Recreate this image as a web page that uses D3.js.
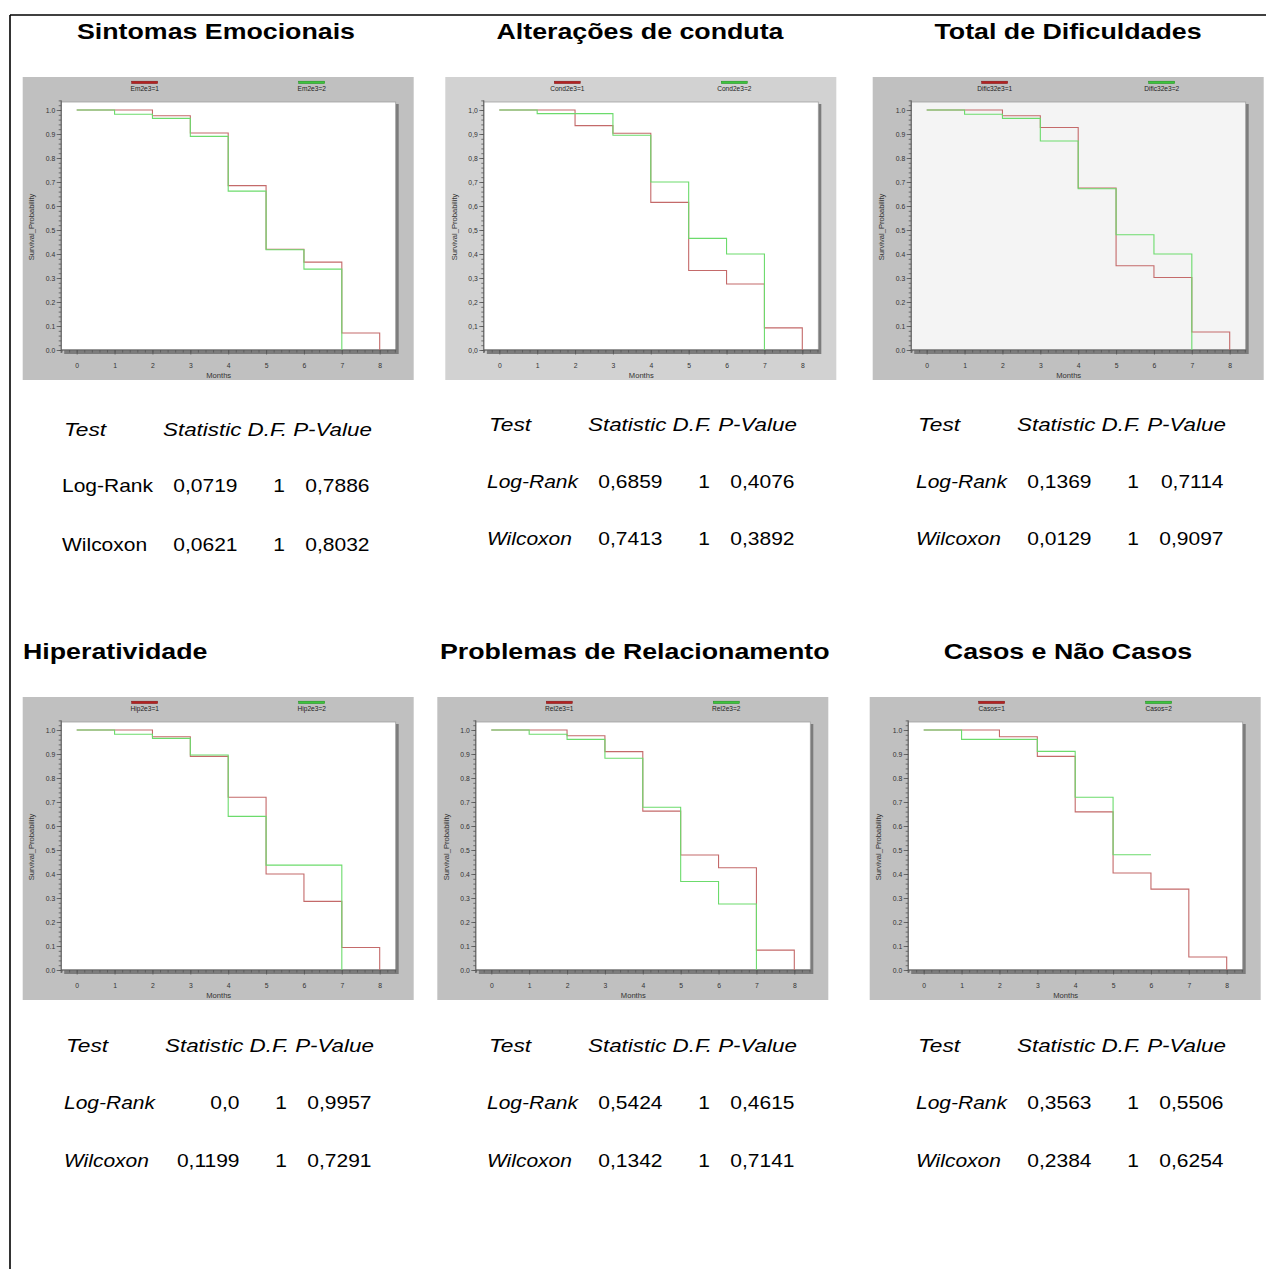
<!DOCTYPE html>
<html><head><meta charset="utf-8">
<script src="https://cdn.jsdelivr.net/npm/d3@7"></script>
<style>
html,body{margin:0;padding:0;background:#fff;}
svg{display:block;}
text{font-family:"Liberation Sans",Arial,sans-serif;}
</style></head>
<body>
<script>
// ---------- DATA ----------
const months = [0,1,2,3,4,5,6,7,8];

const titles = ["Sintomas Emocionais","Alterações de conduta","Total de Dificuldades",
                "Hiperatividade","Problemas de Relacionamento","Casos e Não Casos"];
const groupVars = ["Em2e3","Cond2e3","Dific32e3","Hip2e3","Rel2e3","Casos"];
const groupLevels = ["1","2"];

// Kaplan-Meier survival estimates (value held from month i to month i+1)
const emRed     = [1,1,0.976,0.904,0.685,0.420,0.366,0.071,0];
const emGreen   = [1,0.982,0.965,0.890,0.662,0.418,0.337,0];
const condRed   = [1,1,0.935,0.903,0.615,0.331,0.275,0.092,0];
const condGreen = [1,0.985,0.985,0.895,0.700,0.465,0.400,0];
const difRed    = [1,1,0.976,0.927,0.675,0.351,0.302,0.075,0];
const difGreen  = [1,0.982,0.965,0.871,0.672,0.480,0.400,0];
const hipRed    = [1,1,0.972,0.890,0.720,0.400,0.286,0.094,0];
const hipGreen  = [1,0.982,0.965,0.896,0.640,0.437,0.437,0];
const relRed    = [1,1,0.976,0.910,0.662,0.479,0.426,0.083,0];
const relGreen  = [1,0.982,0.961,0.882,0.678,0.369,0.275,0];
const casRed    = [1,1,0.972,0.890,0.659,0.404,0.337,0.054,0];
const casGreen  = [1,0.961,0.961,0.911,0.720,0.480,0.480];

const xTicks = [0,1,2,3,4,5,6,7,8];
const yTicks = [0,0.1,0.2,0.3,0.4,0.5,0.6,0.7,0.8,0.9,1.0];
const yDecimalSep = [".", ",", ".", ".", ".", "."];

// test tables
const testNames = ["Log-Rank","Wilcoxon"];
const tableHeader = ["Test","Statistic D.F. P-Value"];
const statEm  = ["0,0719","0,0621"], pEm  = ["0,7886","0,8032"];
const statCond= ["0,6859","0,7413"], pCond= ["0,4076","0,3892"];
const statDif = ["0,1369","0,0129"], pDif = ["0,7114","0,9097"];
const statHip = ["0,0","0,1199"],    pHip = ["0,9957","0,7291"];
const statRel = ["0,5424","0,1342"], pRel = ["0,4615","0,7141"];
const statCas = ["0,3563","0,2384"], pCas = ["0,5506","0,6254"];
const dfs = ["1","1"];

// ---------- LAYOUT ----------
const W = 1266, H = 1269;
const SX = 1.2; // horizontal stretch of page text
const redSeries   = [emRed, condRed, difRed, hipRed, relRed, casRed];
const greenSeries = [emGreen, condGreen, difGreen, hipGreen, relGreen, casGreen];
const stats = [statEm, statCond, statDif, statHip, statRel, statCas];
const pvals = [pEm, pCond, pDif, pHip, pRel, pCas];

const panelPos = [[22.7,77],[445.3,77],[872.7,77],[22.7,697],[437.3,697],[869.7,697]];
const panelBg = ["#c0c0c0","#d2d2d2","#c0c0c0","#c0c0c0","#c0c0c0","#c0c0c0"];
const plotBg  = ["#ffffff","#ffffff","#f4f4f4","#ffffff","#ffffff","#ffffff"];
const titlePos = [[216,38.5,"middle"],[640,38.5,"middle"],[1068,38.5,"middle"],
                  [23,659,"start"],[440,659,"start"],[1068,659,"middle"]];
const tablePos = [[62,436,492,551],[487,431,488,545],[916,431,488,545],
                  [64,1052,1109,1167],[487,1052,1109,1167],[916,1052,1109,1167]];
const italicLabels = [false,true,true,true,true,true];

const svg = d3.select("body").append("svg").attr("width",W).attr("height",H);
svg.append("rect").attr("width",W).attr("height",H).attr("fill","#fff");

// frame
svg.append("line").attr("x1",10).attr("y1",15).attr("x2",W).attr("y2",15).attr("stroke","#000").attr("stroke-width",1.6);
svg.append("line").attr("x1",10).attr("y1",15).attr("x2",10).attr("y2",H).attr("stroke","#000").attr("stroke-width",1.6);

function txt(g, x, y, s, o){
  o = o || {};
  return g.append("text")
    .attr("transform",`translate(${x},${y}) scale(${o.sx||1},1)`)
    .attr("text-anchor",o.anchor||"start")
    .attr("font-size",o.size||12)
    .attr("font-weight",o.weight||"normal")
    .attr("font-style",o.style||"normal")
    .attr("fill",o.fill||"#000")
    .text(s);
}

const REDLINE = "#c46a6a", GREENLINE = "#6cdb6c";

for (let i=0;i<6;i++){
  // title
  const tp = titlePos[i];
  txt(svg, tp[0], tp[1], titles[i], {size:22.3, weight:"bold", anchor:tp[2], sx:SX});

  // panel
  const [px,py] = panelPos[i];
  const g = svg.append("g").attr("transform",`translate(${px},${py})`);
  g.append("rect").attr("width",391).attr("height",303).attr("fill",panelBg[i]);

  const x = d3.scaleLinear().domain([0,8]).range([54,357]);
  const y = d3.scaleLinear().domain([0,1]).range([273,33]);

  // shadow + plot area
  g.append("rect").attr("x",41.5).attr("y",27).attr("width",334.5).attr("height",250).attr("fill","#7c7c7c");
  g.append("rect").attr("x",38.5).attr("y",25).attr("width",334.5).attr("height",248)
    .attr("fill",plotBg[i]).attr("stroke","#a0a0a0").attr("stroke-width",0.8);

  // legend
  const legendX = [122,289], legendFill=["#b52222","#3ec43e"], legendStroke=["#7a1414","#1f8a1f"];
  for (let k=0;k<2;k++){
    g.append("rect").attr("x",legendX[k]-13).attr("y",4.2).attr("width",26).attr("height",2.4)
      .attr("fill",legendFill[k]).attr("stroke",legendStroke[k]).attr("stroke-width",0.5);
    txt(g, legendX[k], 13.6, `${groupVars[i]}=${groupLevels[k]}`, {size:6.6, anchor:"middle", fill:"#222"});
  }

  // axes
  const sep = yDecimalSep[i];
  const styleAxis = a => {
    a.select(".domain").remove();
    a.selectAll(".tick line").attr("stroke","#555").attr("stroke-width",0.8);
    a.selectAll("text").attr("font-size",6.8).attr("fill","#333").attr("font-family","Liberation Sans, Arial, sans-serif");
  };
  const xMinor = d3.range(-0.4,8.41,0.2);
  const yMinor = d3.range(0,1.041,0.02);

  g.append("g").attr("transform","translate(0,273)")
    .call(d3.axisBottom(x).tickValues(xMinor).tickSize(2.5).tickFormat(""))
    .call(styleAxis);
  g.append("g").attr("transform","translate(0,273)")
    .call(d3.axisBottom(x).tickValues(xTicks).tickSize(4.5).tickPadding(8.5).tickFormat(d=>String(d)))
    .call(styleAxis);
  g.append("line").attr("x1",38.5).attr("x2",373.5).attr("y1",273).attr("y2",273).attr("stroke","#555").attr("stroke-width",1);

  g.append("g").attr("transform","translate(38.5,0)")
    .call(d3.axisLeft(y).tickValues(yMinor).tickSize(2.5).tickFormat(""))
    .call(styleAxis);
  g.append("g").attr("transform","translate(38.5,0)")
    .call(d3.axisLeft(y).tickValues(yTicks).tickSize(4.5).tickPadding(1.5)
      .tickFormat(d=>d3.format(".1f")(d).replace(".",sep)))
    .call(styleAxis);
  g.append("line").attr("x1",38.5).attr("x2",38.5).attr("y1",y(1.04)).attr("y2",276).attr("stroke","#555").attr("stroke-width",1);

  txt(g, 196, 300.5, "Months", {size:7.6, anchor:"middle", fill:"#333"});
  g.append("text").attr("transform","translate(11.5,150) rotate(-90)")
    .attr("text-anchor","middle").attr("font-size",7.6).attr("fill","#333").text("Survival_Probability");

  // survival step curves
  const line = d3.line().x((d,j)=>x(months[j])).y(d=>y(d)).curve(d3.curveStepAfter);
  g.append("path").datum(redSeries[i]).attr("d",line).attr("fill","none")
    .attr("stroke",REDLINE).attr("stroke-width",1.1);
  g.append("path").datum(greenSeries[i]).attr("d",line).attr("fill","none")
    .attr("stroke",GREENLINE).attr("stroke-width",1.1);

  // test table
  const [tx,hy,r1,r2] = tablePos[i];
  txt(svg, tx+2, hy, tableHeader[0], {size:17.5, style:"italic", sx:1.3});
  txt(svg, tx+101, hy, tableHeader[1], {size:17.5, style:"italic", sx:1.28});
  [r1,r2].forEach((ry,k)=>{
    txt(svg, tx, ry, testNames[k], {size:17.5, style: italicLabels[i]?"italic":"normal", sx:SX});
    txt(svg, tx+175.5, ry, stats[i][k], {size:17.5, anchor:"end", sx:SX});
    txt(svg, tx+223, ry, dfs[k], {size:17.5, anchor:"end", sx:SX});
    txt(svg, tx+307.5, ry, pvals[i][k], {size:17.5, anchor:"end", sx:SX});
  });
}
</script>
</body></html>
